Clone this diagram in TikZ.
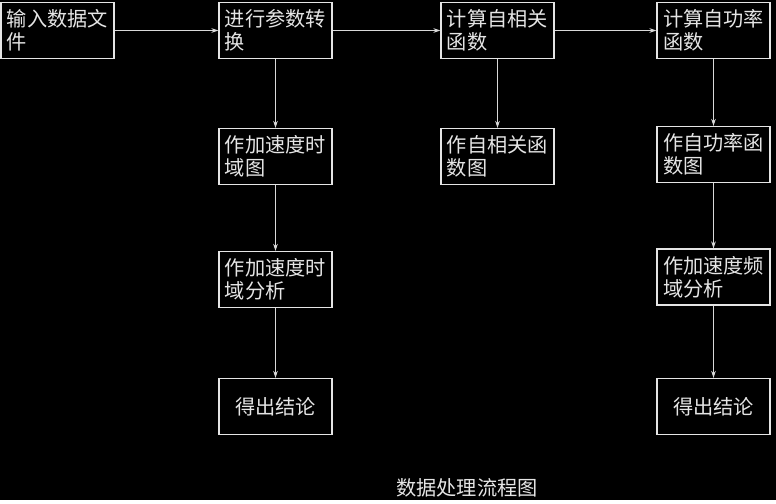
\documentclass[tikz,border=0pt]{standalone}
\usepackage{fontspec}
\setmainfont{Noto Sans CJK SC}
\usetikzlibrary{arrows.meta}

\begin{document}
\begin{tikzpicture}[x=0.02cm,y=-0.02cm,
    every node/.style={text=white!90!black,font=\fontsize{11.5}{13}\selectfont},
    box/.style={draw=white!90!black,line width=0.6pt,minimum width=2.26cm,minimum height=1.12cm,align=left,inner xsep=3pt},
    flow/.style={draw=white!85!black,line width=0.5pt,-{Stealth[length=4pt,width=2.6pt]}}]

     \fill[black] (0,0) rectangle (776,500);

     % top row
     \node[box] (input) at (57.5,30.5) {输入数据文\\件};
     \node[box] (conv) at (275.5,30.5) {进行参数转\\换};
     \node[box] (acf) at (497.5,30.5) {计算自相关\\函数};
     \node[box] (psd) at (713.5,30.5) {计算自功率\\函数};

     \node[box] (timeplot) at (275.5,156.5) {作加速度时\\域图};
     \node[box] (acfplot) at (497.5,156.5) {作自相关函\\数图};
     \node[box] (psdplot) at (713.5,154.5) {作自功率函\\数图};

     \node[box] (timeana) at (275.5,279.5) {作加速度时\\域分析};
     \node[box] (freqana) at (713.5,277) {作加速度频\\域分析};

     \node[box] (res1) at (275.5,406.5) {得出结论};
     \node[box] (res2) at (713.5,406.5) {得出结论};

     \node (title) at (467,488) {数据处理流程图};

     \draw[flow] (input) -- (conv);
     \draw[flow] (conv) -- (acf);
     \draw[flow] (acf) -- (psd);

     \draw[flow] (conv) -- (timeplot);
     \draw[flow] (timeplot) -- (timeana);
     \draw[flow] (timeana) -- (res1);

     \draw[flow] (acf) -- (acfplot);

     \draw[flow] (psd) -- (psdplot);
     \draw[flow] (psdplot) -- (freqana);
     \draw[flow] (freqana) -- (res2);
\end{tikzpicture}
\end{document}
